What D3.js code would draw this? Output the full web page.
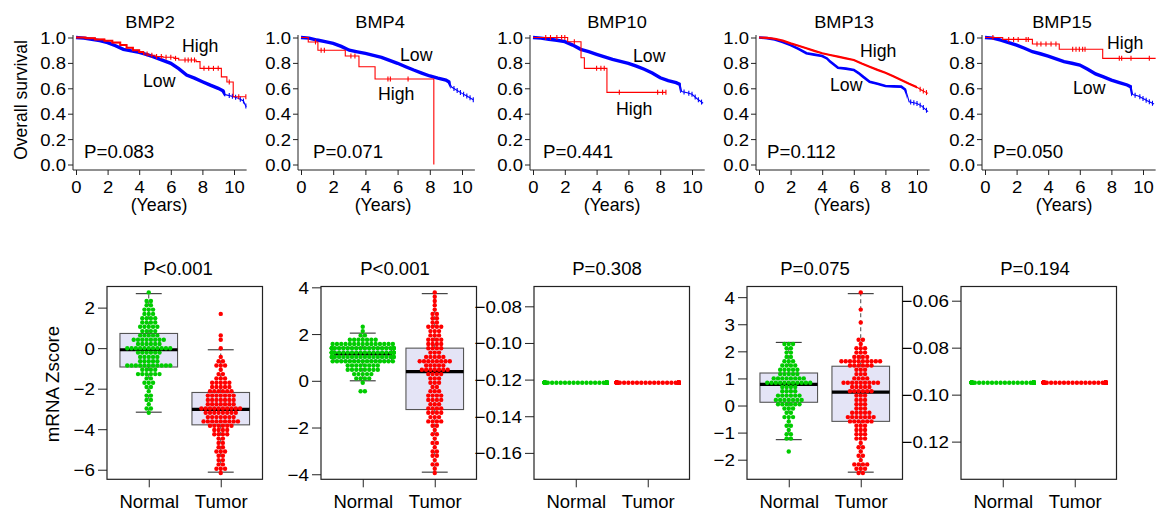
<!DOCTYPE html>
<html><head><meta charset="utf-8">
<script src="https://cdn.jsdelivr.net/npm/d3@7"></script>
<style>
body{margin:0;background:#fff}
svg{display:block}
text{font-family:"Liberation Sans",Arial,Helvetica,sans-serif;fill:#000}
</style>
</head><body>
<svg id="c" width="1156" height="514"></svg>
<script>
// ===================== DATA =====================
const genes = ["BMP2","BMP4","BMP10","BMP13","BMP15"];
const kmPValues = ["P=0.083","P=0.071","P=0.441","P=0.112","P=0.050"];
const boxPValues = ["P<0.001","P<0.001","P=0.308","P=0.075","P=0.194"];
const groupLabels = ["Normal","Tumor"];
const yearTicks = [0,2,4,6,8,10];
const survTicks = [0,0.2,0.4,0.6,0.8,1.0];

// Kaplan-Meier curves: [years, survival]
const bmp2Low = [[0,1],[0.5,0.995],[1,0.985],[1.5,0.975],[2,0.96],[2.5,0.935],[3,0.907],[3.5,0.895],[4,0.883],[4.5,0.865],[5,0.844],[5.5,0.82],[6,0.797],[6.5,0.755],[7,0.705],[7.5,0.68],[8,0.652],[8.5,0.625],[9,0.6],[9.3,0.58],[9.45,0.55],[10,0.534],[10.3,0.52],[10.6,0.5],[10.7,0.47],[10.78,0.455]];
const bmp2LowCensor = [9.7,9.9,10.1,10.4,10.6,10.75];
const bmp2High = [[0,1],[0.6,0.995],[1.2,0.985],[1.8,0.975],[2.3,0.96],[2.8,0.94],[3.2,0.92],[3.6,0.9],[4.0,0.885],[4.3,0.87],[4.6,0.86],[5.0,0.85],[5.5,0.844],[6.2,0.836],[6.5,0.823],[7.6,0.81],[7.85,0.757],[9.2,0.69],[9.55,0.65],[9.95,0.534]];
const bmp2HighCensor = [4.5,4.8,5.1,5.4,5.7,6.0,6.3,6.9,7.1,7.3,7.5,8.1,8.4,8.7,9.0,9.7,10.3,10.75];

const bmp4Low = [[0,1],[0.5,0.995],[1,0.98],[1.5,0.968],[2,0.954],[2.5,0.93],[3,0.9],[3.5,0.887],[4,0.875],[4.5,0.86],[5,0.844],[5.5,0.82],[6,0.797],[6.5,0.77],[7,0.744],[7.5,0.72],[8,0.697],[8.5,0.68],[9,0.665],[9.2,0.65],[9.35,0.61],[9.6,0.59],[10,0.56],[10.3,0.54],[10.7,0.51]];
const bmp4LowCensor = [9.5,9.7,9.9,10.1,10.3,10.5,10.7];
const bmp4High = [[0,1],[0.45,0.965],[1.05,0.90],[2.75,0.854],[3.6,0.77],[4.6,0.673],[8.25,0]];
const bmp4HighCensor = [0.9,1.25,1.45,3.1,3.35,5.4,5.55,6.65];

const bmp10Low = [[0,1],[0.5,0.995],[1,0.986],[1.5,0.978],[2,0.967],[2.5,0.94],[3,0.907],[3.5,0.888],[4,0.868],[4.5,0.848],[5,0.828],[5.5,0.812],[6,0.797],[6.5,0.775],[7,0.75],[7.5,0.72],[8,0.683],[8.5,0.66],[9,0.644],[9.25,0.63],[9.35,0.575],[9.7,0.565],[10,0.553],[10.3,0.52],[10.7,0.482]];
const bmp10LowCensor = [9.5,9.8,10.0,10.2,10.4,10.6];
const bmp10High = [[0,1],[2.18,0.967],[3.02,0.84],[3.23,0.757],[4.65,0.568]];
const bmp10HighCensor = [0.8,1.1,1.5,1.8,2.0,2.6,4.0,4.27,4.48,5.43,7.84,8.15,8.36];

const bmp13Low = [[0,1],[0.5,0.995],[1,0.985],[1.5,0.965],[2,0.94],[2.5,0.91],[3,0.876],[3.5,0.865],[4,0.854],[4.3,0.835],[4.5,0.81],[5,0.762],[5.5,0.755],[6,0.744],[6.3,0.72],[6.6,0.69],[7,0.652],[7.5,0.635],[8,0.618],[8.5,0.615],[9,0.613],[9.25,0.59],[9.35,0.56],[9.5,0.494],[10,0.48],[10.3,0.46],[10.7,0.416]];
const bmp13LowCensor = [9.6,9.8,10.0,10.2,10.4,10.6];
const bmp13High = [[0,1],[0.5,0.997],[1,0.99],[1.5,0.975],[2,0.954],[2.5,0.935],[3,0.915],[3.5,0.895],[4,0.876],[4.5,0.862],[5,0.849],[5.5,0.836],[6,0.823],[6.5,0.795],[7,0.77],[7.5,0.745],[8,0.723],[8.5,0.695],[9,0.665],[9.5,0.635],[10,0.608],[10.3,0.585],[10.7,0.56]];
const bmp13HighCensor = [10.2,10.4,10.6];

const bmp15Low = [[0,1],[0.5,0.995],[1,0.98],[1.5,0.96],[2,0.94],[2.5,0.915],[3,0.888],[3.5,0.872],[4,0.854],[4.5,0.832],[5,0.81],[5.5,0.797],[6,0.783],[6.5,0.75],[7,0.713],[7.5,0.69],[8,0.665],[8.5,0.645],[9,0.626],[9.25,0.61],[9.35,0.55],[9.7,0.54],[10,0.52],[10.3,0.5],[10.7,0.476]];
const bmp15LowCensor = [9.5,9.8,10.0,10.2,10.4,10.6];
const bmp15High = [[0,1],[1.12,0.985],[3.0,0.949],[4.7,0.907],[7.45,0.836]];
const bmp15HighCensor = [0.5,1.5,1.81,2.1,2.6,2.74,3.29,3.54,3.86,4.18,4.49,5.55,5.76,5.97,6.18,6.33,8.5,8.65,9.24,10.4];

// Follow-up end of the High groups (years)
const highEnds = [10.75, 8.25, 8.36, 10.7, 10.8];

// mRNA z-scores (beeswarm + boxplot)
const bmp2Normal = [2.69,2.42,2.35,2.2,2.05,1.95,1.85,1.8,1.72,1.65,1.6,1.55,1.5,1.45,1.4,1.35,1.3,1.25,1.2,1.15,1.1,1.05,1.0,0.95,0.9,0.85,0.8,0.75,0.7,0.66,
 0.62,0.58,0.55,0.5,0.47,0.42,0.4,0.37,0.35,0.34,0.32,0.3,0.27,0.22,0.18,0.15,0.12,0.08,0.05,0.02,0.0,-0.02,-0.04,-0.06,-0.07,-0.08,-0.08,
 -0.1,-0.12,-0.15,-0.18,-0.2,-0.25,-0.3,-0.35,-0.38,-0.42,-0.45,-0.5,-0.55,-0.6,-0.63,-0.68,-0.72,-0.76,-0.8,-0.83,-0.85,-0.86,-0.87,-0.88,-0.9,-0.92,-0.94,
 -0.96,-1.0,-1.05,-1.1,-1.15,-1.18,-1.2,-1.22,-1.25,-1.3,-1.38,-1.45,-1.55,-1.62,-1.7,-1.8,-1.9,-2.0,-2.15,-2.25,-2.35,-2.5,-2.65,-2.8,-2.95,-3.05,-3.16];
const bmp2Tumor = [1.63,0.65,0.52,
 -0.08,-0.35,-0.55,-0.6,-0.85,-0.9,-0.95,-1.05,-1.2,-1.3,-1.4,-1.5,-1.55,-1.6,-1.65,-1.7,-1.75,-1.8,-1.82,-1.85,-1.9,-1.95,-2.0,-2.05,-2.08,-2.12,-2.15,
 -2.2,-2.22,-2.25,-2.28,-2.3,-2.33,-2.36,-2.4,-2.43,-2.46,-2.5,-2.53,-2.56,-2.6,-2.63,-2.66,-2.7,-2.72,-2.75,-2.78,-2.8,-2.83,-2.86,-2.88,-2.9,-2.93,-2.95,-2.97,-2.99,-3.01,
 -3.03,-3.05,-3.08,-3.1,-3.12,-3.15,-3.18,-3.2,-3.22,-3.25,-3.28,-3.3,-3.33,-3.36,-3.4,-3.43,-3.46,-3.5,-3.52,-3.55,-3.58,-3.6,-3.62,-3.65,-3.68,-3.7,-3.72,-3.74,-3.76,-3.78,
 -3.8,-3.85,-3.9,-3.95,-4.0,-4.05,-4.1,-4.15,-4.2,-4.25,-4.3,-4.4,-4.5,-4.6,-4.7,-4.8,-4.9,-5.0,-5.1,-5.2,-5.3,-5.4,-5.5,-5.6,-5.7,-5.8,-5.9,-6.0,-6.05,-6.12];
const bmp4Normal = [2.38,-0.44,-0.46,
 2.04,1.95,1.9,1.85,1.82,1.78,1.75,1.72,1.7,1.68,1.66,1.64,1.62,1.6,1.6,1.58,1.57,1.56,1.55,1.54,1.53,1.52,1.51,1.5,1.49,1.48,1.47,1.46,1.45,1.45,1.44,
 1.43,1.42,1.41,1.4,1.39,1.38,1.37,1.36,1.35,1.34,1.33,1.32,1.31,1.3,1.29,1.28,1.27,1.26,1.25,1.24,1.23,1.22,1.21,1.2,1.2,1.19,1.18,1.18,1.17,1.17,1.16,1.16,
 1.15,1.14,1.13,1.12,1.11,1.1,1.09,1.08,1.07,1.06,1.05,1.04,1.03,1.02,1.01,1.0,0.99,0.98,0.97,0.96,0.95,0.94,0.93,0.92,0.91,0.9,0.89,0.88,0.87,0.87,0.86,0.86,
 0.85,0.83,0.8,0.78,0.76,0.74,0.72,0.7,0.68,0.65,0.62,0.6,0.58,0.55,0.52,0.5,0.48,0.45,0.42,0.4,0.38,0.35,0.32,0.28,0.25,0.2,0.16,0.12,0.08,0.04,0.0];
const bmp4Tumor = [3.73,3.6,3.45,3.3,3.1,2.9,2.8,2.7,2.6,2.5,2.45,2.4,2.35,2.3,2.25,2.2,2.15,2.1,2.0,1.95,1.9,1.85,1.8,1.75,1.7,1.65,1.6,1.55,1.5,1.45,
 1.38,1.35,1.3,1.25,1.2,1.15,1.1,1.05,1.0,0.98,0.95,0.92,0.9,0.88,0.85,0.82,0.8,0.78,0.75,0.72,0.7,0.65,0.62,0.6,0.56,0.52,0.5,0.47,0.44,0.41,
 0.38,0.35,0.3,0.25,0.2,0.15,0.1,0.05,0.0,-0.05,-0.1,-0.2,-0.3,-0.4,-0.45,-0.5,-0.55,-0.6,-0.65,-0.7,-0.75,-0.8,-0.85,-0.9,-0.95,-1.0,-1.05,-1.1,-1.15,-1.22,
 -1.26,-1.3,-1.35,-1.4,-1.45,-1.5,-1.55,-1.6,-1.65,-1.7,-1.75,-1.8,-1.9,-2.0,-2.1,-2.2,-2.35,-2.5,-2.6,-2.7,-2.85,-3.0,-3.1,-3.2,-3.3,-3.4,-3.5,-3.6,-3.75,-3.91];
const bmp10Level = -0.1218;   // every BMP10 sample has the same z-score
const bmp10Counts = [110, 110];
const bmp13Normal = [2.33,2.28,2.2,2.12,2.05,1.98,1.9,1.82,1.75,1.7,1.65,1.6,1.55,1.5,1.46,1.42,1.38,1.34,1.3,1.27,1.24,1.22,
 1.2,1.17,1.14,1.11,1.08,1.06,1.04,1.02,1.0,0.98,0.96,0.94,0.92,0.9,0.88,0.87,0.86,0.85,0.84,0.82,0.81,0.8,
 0.78,0.74,0.7,0.66,0.62,0.58,0.54,0.5,0.46,0.42,0.38,0.35,0.32,0.3,0.3,0.28,0.25,0.22,0.2,0.17,0.15,0.14,
 0.12,0.08,0.05,0.02,0.0,-0.03,-0.07,-0.1,-0.15,-0.2,-0.28,-0.35,-0.42,-0.5,-0.6,-0.7,-0.8,-0.9,-1.0,-1.1,-1.2,-1.26,-1.63];
const bmp13Tumor = [4.13,3.6,3.12,2.48,2.42,2.2,2.15,2.1,2.05,2.0,1.95,1.9,1.85,1.8,1.75,1.72,1.7,1.7,1.68,1.68,1.66,1.65,1.64,1.62,1.6,1.58,1.55,1.52,1.5,1.48,
 1.44,1.4,1.35,1.3,1.25,1.2,1.15,1.1,1.05,1.0,0.95,0.93,0.92,0.9,0.9,0.88,0.86,0.84,0.82,0.8,0.78,0.75,0.72,0.7,0.67,0.64,0.6,0.57,0.54,0.51,
 0.48,0.45,0.4,0.35,0.3,0.25,0.2,0.15,0.1,0.05,0.0,-0.05,-0.1,-0.15,-0.2,-0.25,-0.28,-0.3,-0.32,-0.35,-0.38,-0.4,-0.42,-0.45,-0.48,-0.5,-0.52,-0.54,-0.56,-0.58,
 -0.6,-0.65,-0.7,-0.75,-0.8,-0.85,-0.9,-0.95,-1.0,-1.05,-1.1,-1.15,-1.2,-1.3,-1.4,-1.5,-1.6,-1.7,-1.8,-1.9,-2.0,-2.1,-2.15,-2.2,-2.25,-2.3,-2.35,-2.4,-2.43,-2.46];
const bmp15Level = -0.095;    // every BMP15 sample has the same z-score
const bmp15Counts = [110, 110];

const bmp2Ticks = [2,0,-2,-4,-6];
const bmp4Ticks = [4,2,0,-2,-4];
const bmp10Ticks = [-0.08,-0.10,-0.12,-0.14,-0.16];
const bmp13Ticks = [4,3,2,1,0,-1,-2];
const bmp15Ticks = [-0.06,-0.08,-0.10,-0.12];

// ===================== DRAWING =====================
const svg = d3.select("#c");
const BLUE = "#0000ff", RED = "#ff0000", GREEN = "#00cc00", AX = "#222";
const FONT = "Liberation Sans, Arial, sans-serif";
const minus = s => s.replace(/-/g, "\u2212");

function label(g, x, y, str, size, opt = {}) {
  const sx = opt.sx || 1, rot = opt.rot || 0;
  return g.append("text")
    .attr("transform", `translate(${x},${y})` + (rot ? ` rotate(${rot})` : "") + (sx !== 1 ? ` scale(${sx},1)` : ""))
    .attr("text-anchor", opt.anchor || "start")
    .style("font-size", size + "px")
    .text(str);
}

// ---------- Kaplan-Meier row ----------
const kmLayout = [
  {x0:76,  s:15.8, titleX:150,  yearsX:159,  pX:84,  lowDense:9.45, lowW:3.4, highDense:4.3,  highW:2.0, highLinear:false, hi:[182,52],  lo:[143,87]},
  {x0:301, s:16.1, titleX:380,  yearsX:383,  pX:313, lowDense:9.3,  lowW:3.4, highDense:0,    highW:0,   highLinear:false, hi:[378,100], lo:[400,61]},
  {x0:533, s:15.9, titleX:617,  yearsX:612,  pX:543, lowDense:9.3,  lowW:3.4, highDense:0,    highW:0,   highLinear:false, hi:[616,115], lo:[633,62]},
  {x0:759, s:15.8, titleX:844,  yearsX:842,  pX:767, lowDense:9.35, lowW:2.6, highDense:10.0, highW:2.2, highLinear:true,  hi:[860,57],  lo:[830,91]},
  {x0:985, s:15.8, titleX:1062, yearsX:1064, pX:993, lowDense:9.3,  lowW:3.4, highDense:0,    highW:0,   highLinear:false, hi:[1107,49], lo:[1073,94]}
];
const kmLow = [bmp2Low,bmp4Low,bmp10Low,bmp13Low,bmp15Low];
const kmLowCensor = [bmp2LowCensor,bmp4LowCensor,bmp10LowCensor,bmp13LowCensor,bmp15LowCensor];
const kmHigh = [bmp2High,bmp4High,bmp10High,bmp13High,bmp15High];
const kmHighCensor = [bmp2HighCensor,bmp4HighCensor,bmp10HighCensor,bmp13HighCensor,bmp15HighCensor];

function survAt(pts, t, linear) {
  let i = 0;
  while (i < pts.length - 1 && pts[i + 1][0] <= t) i++;
  if (!linear || i === pts.length - 1) return pts[i][1];
  const a = pts[i], b = pts[i + 1];
  return a[1] + (b[1] - a[1]) * (t - a[0]) / (b[0] - a[0]);
}

const defs = svg.append("defs");

kmLayout.forEach((L, i) => {
  const g = svg.append("g");
  const x = d3.scaleLinear().domain([0, 10]).range([L.x0, L.x0 + 10 * L.s]);
  const y = d3.scaleLinear().domain([0, 1]).range([164.5, 37.5]);
  const axX = L.x0 - 3, axY = 170;

  g.append("line").attr("x1", axX).attr("x2", axX).attr("y1", 35).attr("y2", axY).attr("stroke", AX);
  g.append("line").attr("x1", axX).attr("x2", x(10.8)).attr("y1", axY).attr("y2", axY).attr("stroke", AX);

  const ya = g.append("g").attr("transform", `translate(${axX},0)`)
    .call(d3.axisLeft(y).tickValues(survTicks).tickSize(5).tickFormat(d3.format(".1f")));
  ya.select(".domain").remove();
  ya.selectAll("line").attr("stroke", AX);
  ya.selectAll("text").each(function () {
    d3.select(this).attr("x", null).attr("dy", null).attr("fill", "#000")
      .attr("transform", "translate(-7,6) scale(1.1,1)")
      .style("font-size", "16.8px").style("font-family", FONT);
  });

  const xa = g.append("g").attr("transform", `translate(0,${axY})`)
    .call(d3.axisBottom(x).tickValues(yearTicks).tickSize(5).tickFormat(d3.format("d")));
  xa.select(".domain").remove();
  xa.selectAll("line").attr("stroke", AX);
  xa.selectAll("text").each(function () {
    d3.select(this).attr("y", null).attr("dy", null).attr("fill", "#000")
      .attr("transform", "translate(0,22.5) scale(1.1,1)")
      .style("font-size", "16.8px").style("font-family", FONT);
  });

  const lin = d3.line().x(d => x(d[0])).y(d => y(d[1]));
  const stp = d3.line().x(d => x(d[0])).y(d => y(d[1])).curve(d3.curveStepAfter);

  function drawCurve(pts, linear, color, dense, width, censor) {
    const gen = linear ? lin : stp;
    g.append("path").attr("d", gen(pts)).attr("fill", "none").attr("stroke", color).attr("stroke-width", 1.1);
    if (dense > 0) {
      const id = "clip" + i + color.slice(1);
      defs.append("clipPath").attr("id", id).append("rect")
        .attr("x", L.x0 - 5).attr("y", 0).attr("width", x(dense) - L.x0 + 5).attr("height", 200);
      g.append("path").attr("d", gen(pts)).attr("fill", "none").attr("stroke", color)
        .attr("stroke-width", width).attr("clip-path", `url(#${id})`);
    }
    g.selectAll(null).data(censor).join("line")
      .attr("x1", t => x(t)).attr("x2", t => x(t))
      .attr("y1", t => y(survAt(pts, t, linear)) - 2.5)
      .attr("y2", t => y(survAt(pts, t, linear)) + 2.5)
      .attr("stroke", color).attr("stroke-width", 1.1);
  }

  drawCurve(kmLow[i], true, BLUE, L.lowDense, L.lowW, kmLowCensor[i]);
  const hp = kmHigh[i].slice();
  const last = hp[hp.length - 1];
  if (highEnds[i] > last[0]) hp.push([highEnds[i], last[1]]);
  drawCurve(hp, L.highLinear, RED, L.highDense, L.highW, kmHighCensor[i]);

  label(g, L.titleX, 28, genes[i], 17, {anchor: "middle", sx: 1.07});
  label(g, L.yearsX, 211, "(Years)", 17.8, {anchor: "middle"});
  label(g, L.pX, 158, kmPValues[i], 17.8, {sx: 1.05});
  label(g, L.hi[0], L.hi[1], "High", 17.7);
  label(g, L.lo[0], L.lo[1], "Low", 17.7);
});
label(svg, 26.5, 100, "Overall survival", 17.5, {anchor: "middle", rot: -90});

// ---------- Box / beeswarm row ----------
const boxLayout = [
  {left:107, titleX:178,  fmt:"d"},
  {left:321, titleX:395,  fmt:"d"},
  {left:534, titleX:607,  fmt:".2f"},
  {left:747, titleX:815,  fmt:"d"},
  {left:961, titleX:1035, fmt:".2f"}
];
const boxData = [
  [bmp2Normal, bmp2Tumor],
  [bmp4Normal, bmp4Tumor],
  [Array(bmp10Counts[0]).fill(bmp10Level), Array(bmp10Counts[1]).fill(bmp10Level)],
  [bmp13Normal, bmp13Tumor],
  [Array(bmp15Counts[0]).fill(bmp15Level), Array(bmp15Counts[1]).fill(bmp15Level)]
];
const boxTicks = [bmp2Ticks, bmp4Ticks, bmp10Ticks, bmp13Ticks, bmp15Ticks];
const FT = 286.5, FB = 479.3, FW = 155.5;
const R = 2.2, CELL = 4.3, MAXW = 31;

// beeswarm "center" layout: values binned into rows, points centred in each row
function swarm(vals, yS) {
  const rows = d3.groups(vals, v => Math.round(yS(v) / CELL));
  const out = [];
  rows.forEach(([r, vs]) => {
    const n = vs.length;
    vs.forEach((v, j) => {
      const dx = Math.max(-MAXW, Math.min(MAXW, (j - (n - 1) / 2) * CELL));
      out.push({x: dx, y: r * CELL});
    });
  });
  return out;
}

boxLayout.forEach((L, i) => {
  const g = svg.append("g");
  const groups = boxData[i];
  const all = groups[0].concat(groups[1]);
  let [lo, hi] = d3.extent(all);
  if (hi - lo === 0) { const h = 0.4 * Math.abs(lo); lo -= h; hi += h; }
  const pad = 0.04 * (hi - lo);
  const y = d3.scaleLinear().domain([lo - pad, hi + pad]).range([FB, FT]);
  const x = d3.scaleLinear().domain([0.42, 2.58]).range([L.left, L.left + FW]);

  const ya = g.append("g").attr("transform", `translate(${L.left},0)`)
    .call(d3.axisLeft(y).tickValues(boxTicks[i]).tickSize(9)
      .tickFormat(v => minus(d3.format(L.fmt)(v))));
  ya.select(".domain").remove();
  ya.selectAll("line").attr("stroke", AX);
  ya.selectAll("text").each(function () {
    d3.select(this).attr("x", null).attr("dy", null).attr("fill", "#000")
      .attr("transform", "translate(-12,6) scale(1.12,1)")
      .style("font-size", "16.8px").style("font-family", FONT);
  });
  const xa = g.append("g").attr("transform", `translate(0,${FB})`)
    .call(d3.axisBottom(x).tickValues([1, 2]).tickSize(8).tickFormat((d, k) => groupLabels[k]));
  xa.select(".domain").remove();
  xa.selectAll("line").attr("stroke", AX);
  xa.selectAll("text").attr("y", null).attr("dy", null).attr("fill", "#000")
    .attr("transform", "translate(0,29)")
    .style("font-size", "18.5px").style("font-family", FONT);

  groups.forEach((vals, k) => {
    const cx = x(k + 1);
    const s = vals.slice().sort(d3.ascending);
    const q1 = d3.quantile(s, 0.25), med = d3.quantile(s, 0.5), q3 = d3.quantile(s, 0.75);
    const iqr = q3 - q1;
    if (iqr > 0) {
      const wTop = d3.max(s.filter(v => v <= q3 + 1.5 * iqr));
      const wBot = d3.min(s.filter(v => v >= q1 - 1.5 * iqr));
      const bw = 0.8 * (x(1) - x(0)), cap = bw * 0.45;
      g.append("line").attr("x1", cx).attr("x2", cx).attr("y1", y(q3)).attr("y2", y(wTop))
        .attr("stroke", "#444").attr("stroke-dasharray", "4,3");
      g.append("line").attr("x1", cx).attr("x2", cx).attr("y1", y(q1)).attr("y2", y(wBot))
        .attr("stroke", "#444").attr("stroke-dasharray", "4,3");
      [wTop, wBot].forEach(w => g.append("line").attr("x1", cx - cap / 2).attr("x2", cx + cap / 2)
        .attr("y1", y(w)).attr("y2", y(w)).attr("stroke", "#333").attr("stroke-width", 1.1));
      g.append("rect").attr("x", cx - bw / 2).attr("y", y(q3)).attr("width", bw).attr("height", y(q1) - y(q3))
        .attr("fill", "#e4e4f6").attr("stroke", "#555").attr("stroke-width", 1.1);
      g.append("line").attr("x1", cx - bw / 2).attr("x2", cx + bw / 2).attr("y1", y(med)).attr("y2", y(med))
        .attr("stroke", "#000").attr("stroke-width", 3.2);
    }
    const pts = swarm(vals, y);
    g.selectAll(null).data(pts).join("circle")
      .attr("cx", p => cx + p.x).attr("cy", p => p.y).attr("r", R)
      .attr("fill", k === 0 ? GREEN : RED);
  });

  g.append("rect").attr("x", L.left).attr("y", FT).attr("width", FW).attr("height", FB - FT)
    .attr("fill", "none").attr("stroke", AX).attr("stroke-width", 1.2);
  label(g, L.titleX, 275, boxPValues[i], 17.5, {anchor: "middle", sx: 1.06});
});
label(svg, 59, 384, "mRNA Zscore", 17.5, {anchor: "middle", rot: -90, sx: 1.07});
</script>
</body></html>
